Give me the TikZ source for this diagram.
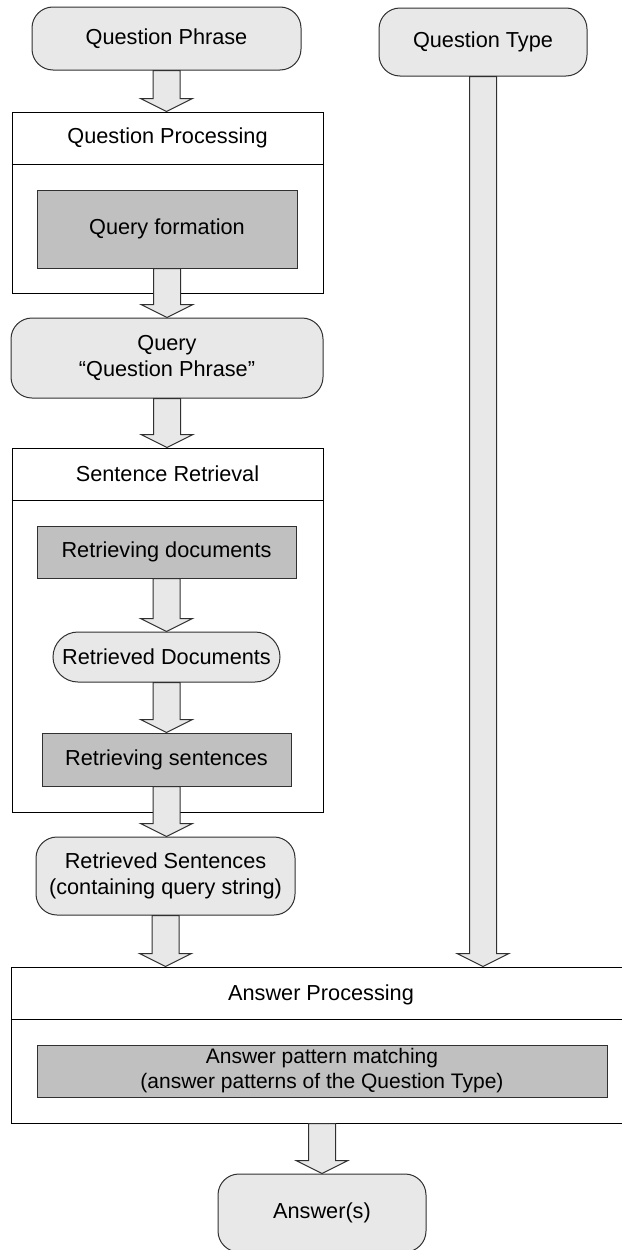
\documentclass[tikz,border=0pt]{standalone}
\usepackage{fontspec}
\setmainfont{Liberation Sans}
\usetikzlibrary{calc}
\definecolor{lightfill}{HTML}{E8E8E8}
\definecolor{darkfill}{HTML}{C0C0C0}
\definecolor{edge}{HTML}{303030}
\tikzset{
  base/.style={draw=edge, line width=1pt, inner sep=0pt, align=center,
    font=\fontsize{21.7}{26}\selectfont, text=black},
  roundbox/.style={base, fill=lightfill, rounded corners=21pt},
  procbox/.style={base, fill=darkfill},
  container/.style={base, draw=black, fill=white},
  title/.style={inner sep=0pt, font=\fontsize{21.7}{26}\selectfont},
  blk/.style={draw=edge, line width=1pt, fill=lightfill, line join=miter},
  hline/.style={draw=black, line width=1pt}
}
\newcommand{\barrow}[2]{%
  \path[blk] let \p1=(#1), \p2=(#2) in
    ({\x1-13.5pt},\y1) -- ({\x1+13.5pt},\y1) -- ({\x1+13.5pt},{\y2+13pt})
    -- ({\x1+26pt},{\y2+13pt}) -- (\x1,\y2) -- ({\x1-26pt},{\y2+13pt})
    -- ({\x1-13.5pt},{\y2+13pt}) -- cycle;}
\begin{document}
\begin{tikzpicture}[x=1pt,y=-1pt]
\useasboundingbox (0,0) rectangle (621,1250);
% containers
\node[container, minimum width=311pt, minimum height=181pt] (qp) at (167.5,202.5) {};
\node[title] (qpt) at (167.5,138) {Question Processing};
\draw[hline] (qp.west |- 0,164) -- (qp.east |- 0,164);
\node[container, minimum width=311pt, minimum height=364pt] (sr) at (167.5,630) {};
\node[title] (srt) at (167.5,474) {Sentence Retrieval};
\draw[hline] (sr.west |- 0,500) -- (sr.east |- 0,500);
\node[container, minimum width=616pt, minimum height=156pt] (ap) at (319,1045) {};
\node[title] (apt) at (321,995) {Answer Processing};
\draw[hline] (ap.west |- 0,1019) -- (ap.east |- 0,1019);
% nodes
\node[roundbox, minimum width=269pt, minimum height=63pt] (qph) at (166.5,38.5) {Question Phrase};
\node[roundbox, minimum width=208pt, minimum height=68pt] (qt) at (483,42) {Question Type};
\node[procbox, minimum width=260pt, minimum height=78pt] (qf) at (167,229) {Query formation};
\node[roundbox, minimum width=312pt, minimum height=80pt] (q) at (167,358) {Query\\“Question Phrase”};
\node[procbox, minimum width=259pt, minimum height=52pt] (rd) at (166.5,552) {Retrieving documents};
\node[roundbox, rounded corners=25pt, minimum width=227pt, minimum height=50pt] (rdoc) at (166.5,657) {Retrieved Documents};
\node[procbox, minimum width=249pt, minimum height=53pt] (rs) at (166.5,759.5) {Retrieving sentences};
\node[roundbox, minimum width=259pt, minimum height=78pt] (rsent) at (165.5,876) {Retrieved Sentences\\(containing query string)};
\node[procbox, minimum width=570pt, minimum height=52pt, font=\fontsize{21}{25}\selectfont] (apm) at (322,1071) {Answer pattern matching\\(answer patterns of the Question Type)};
\node[roundbox, minimum width=208pt, minimum height=78pt] (ans) at (322,1213) {Answer(s)};
% block arrows
\barrow{qph.south}{qph.south |- qp.north}
\barrow{qf.south}{qf.south |- q.north}
\barrow{q.south}{q.south |- sr.north}
\barrow{rd.south}{rd.south |- rdoc.north}
\barrow{rdoc.south}{rdoc.south |- rs.north}
\barrow{rs.south}{rs.south |- rsent.north}
\barrow{rsent.south}{rsent.south |- ap.north}
\barrow{qt.south}{qt.south |- ap.north}
\barrow{ans.north |- ap.south}{ans.north}
\end{tikzpicture}
\end{document}
